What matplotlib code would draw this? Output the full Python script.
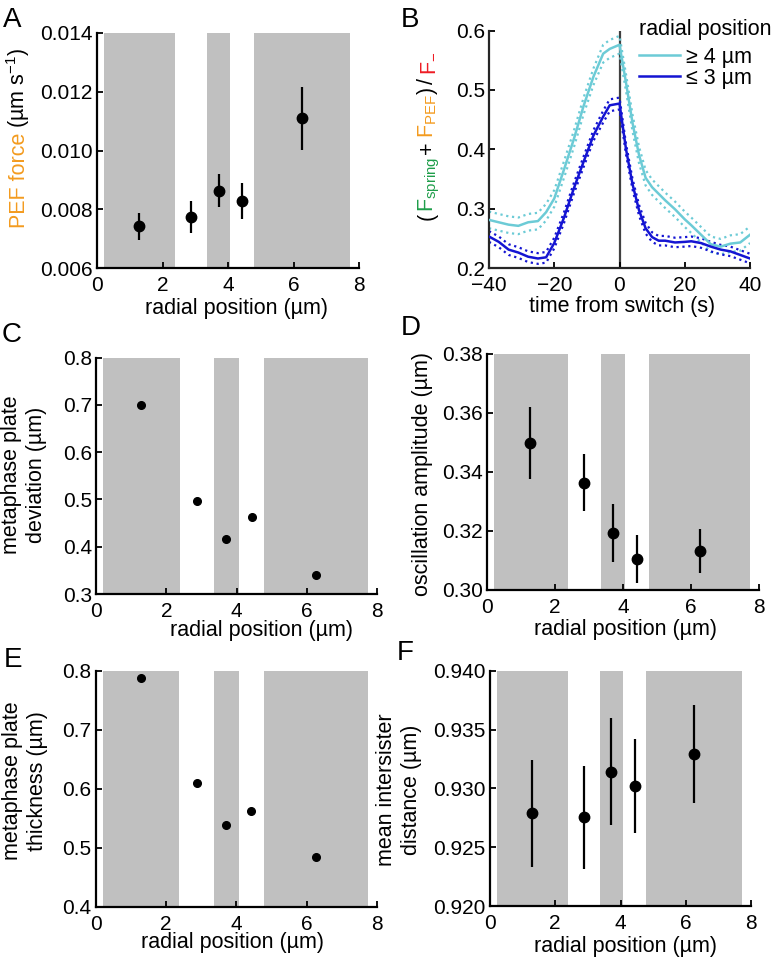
import matplotlib

matplotlib.use("Agg")
import matplotlib.pyplot as plt  # noqa: E402
from matplotlib.ticker import FormatStrFormatter  # noqa: E402

W, H = 777, 961

plt.rcParams["font.family"] = ["Liberation Sans", "DejaVu Sans"]
plt.rcParams["mathtext.fontset"] = "custom"
plt.rcParams["mathtext.rm"] = "Liberation Sans"
plt.rcParams["mathtext.it"] = "Liberation Sans:italic"
plt.rcParams["mathtext.bf"] = "Liberation Sans:bold"

# ---- data ----
radial = [1.28, 2.87, 3.71, 4.43, 6.26]
bands = [(0.2, 2.38), (3.36, 4.07), (4.78, 7.73)]

pef_force = [0.00742, 0.00774, 0.00863, 0.00829, 0.01109]
pef_sem = [0.00046, 0.00055, 0.00056, 0.00062, 0.00106]

plate_dev = [0.7007, 0.497, 0.416, 0.462, 0.340]

osc_amp = [0.3498, 0.3364, 0.3193, 0.3105, 0.3132]
osc_sem = [0.0122, 0.0096, 0.0098, 0.0082, 0.0074]

plate_thick = [0.787, 0.610, 0.539, 0.563, 0.484]

inter_dist = [0.92788, 0.92754, 0.93142, 0.93020, 0.93292]
inter_sem = [0.00456, 0.00436, 0.00453, 0.00403, 0.00415]

t_switch = [-40, -37, -34, -31, -28, -25, -22.5, -20, -17, -14, -11, -8, -5, -3, 0,
            2, 4, 6, 8, 10, 12, 14, 17, 20, 22, 25, 28, 31, 34, 37, 40]
ratio_outer = [0.281, 0.277, 0.273, 0.271, 0.277, 0.279, 0.294, 0.317, 0.366, 0.417,
               0.473, 0.522, 0.561, 0.569, 0.576, 0.512, 0.444, 0.390, 0.352, 0.336,
               0.325, 0.314, 0.299, 0.282, 0.272, 0.256, 0.240, 0.236, 0.241, 0.243,
               0.256]
ratio_outer_sem = [0.014, 0.014, 0.014, 0.014, 0.014, 0.014, 0.014, 0.014, 0.014, 0.014,
                   0.014, 0.014, 0.015, 0.015, 0.015, 0.014, 0.014, 0.014, 0.013, 0.013,
                   0.013, 0.013, 0.013, 0.013, 0.013, 0.013, 0.013, 0.013, 0.014, 0.014,
                   0.014]
ratio_inner = [0.253, 0.244, 0.231, 0.226, 0.219, 0.216, 0.218, 0.242, 0.285, 0.334,
               0.379, 0.423, 0.455, 0.474, 0.477, 0.400, 0.341, 0.297, 0.267, 0.252,
               0.246, 0.246, 0.243, 0.244, 0.245, 0.242, 0.236, 0.231, 0.228, 0.222,
               0.216]
ratio_inner_sem = [0.009, 0.009, 0.009, 0.009, 0.009, 0.009, 0.009, 0.009, 0.009, 0.009,
                   0.009, 0.009, 0.010, 0.010, 0.010, 0.009, 0.009, 0.009, 0.009, 0.008,
                   0.008, 0.008, 0.008, 0.008, 0.008, 0.008, 0.008, 0.008, 0.008, 0.008,
                   0.008]

ORANGE = "#f39b1f"
GREEN = "#1f9e4a"
RED = "#ee1c24"
CYAN = "#6ccbd6"
BLUE = "#1414d2"
BAND = "#c0c0c0"

TICK_FS = 15
LABEL_FS = 15.5


def _fx(px: float) -> float:
    return px / W


def _fy(py: float) -> float:
    return 1 - py / H


def _axes(fig, left, top, right, bottom):
    return fig.add_axes([_fx(left), _fy(bottom), (right - left) / W, (bottom - top) / H])


def _style(ax, ylim, yticks, yfmt, xlim=(0, 8), xticks=(0, 2, 4, 6, 8)):
    ax.set_xlim(*xlim)
    ax.set_ylim(*ylim)
    ax.set_xticks(xticks)
    ax.set_yticks(yticks)
    ax.yaxis.set_major_formatter(FormatStrFormatter(yfmt))
    for side in ("top", "right"):
        ax.spines[side].set_visible(False)
    for side in ("left", "bottom"):
        ax.spines[side].set_linewidth(1.6)
        ax.spines[side].set_color("black")
    ax.tick_params(direction="in", length=4, width=1.3, labelsize=TICK_FS, colors="black")
    ax.tick_params(axis="x", pad=5.5)
    ax.tick_params(axis="y", pad=3)


def _bands(ax):
    for lo, hi in bands:
        ax.axvspan(lo, hi, color=BAND, lw=0, zorder=0)


def _xlabel(fig, text, cx, baseline):
    fig.text(_fx(cx), _fy(baseline), text, ha="center", va="baseline", fontsize=LABEL_FS)


def _ylabel(fig, text, right, cy):
    fig.text(_fx(right), _fy(cy), text, ha="right", va="center", rotation=90,
             multialignment="center", linespacing=1.25, fontsize=LABEL_FS)


def _stacked_ylabel(fig, pieces, baseline_x, cy):
    # pieces: (text, colour, gap_before_px); drawn bottom-to-top on a shared baseline
    renderer = fig.canvas.get_renderer()
    arts = []
    total = 0.0
    for s, c, gap in pieces:
        t = fig.text(0, 0, s, color=c, fontsize=LABEL_FS, rotation=90,
                     rotation_mode="anchor", ha="left", va="baseline")
        length = t.get_window_extent(renderer).height
        arts.append((t, gap, length))
        total += gap + length
    y = (H - cy) - total / 2
    for t, gap, length in arts:
        y += gap
        t.set_position((_fx(baseline_x), y / H))
        y += length


fig = plt.figure(figsize=(W / 100, H / 100), dpi=100)

# A
ax = _axes(fig, 97, 33, 359, 268)
_bands(ax)
ax.errorbar(radial, pef_force, yerr=pef_sem, fmt="o", color="black", ms=7.5, elinewidth=1.6,
            capsize=0, zorder=3)
_style(ax, (0.006, 0.014), [0.006, 0.008, 0.010, 0.012, 0.014], "%.3f")
_xlabel(fig, "radial position (µm)", 236, 314)
_stacked_ylabel(fig, [("PEF force", ORANGE, 0), ("(µm s$^{\\mathregular{-1}}$)", "black", 5)], 25, 138)

# B
ax = _axes(fig, 489, 30.5, 750, 268)
ax.axvline(0, color="#404040", lw=1.6, zorder=1)
ax.plot(t_switch, ratio_outer, color=CYAN, lw=1.8, label="≥ 4 µm", zorder=3)
ax.plot(t_switch, [m + s for m, s in zip(ratio_outer, ratio_outer_sem)], color=CYAN, lw=1.6,
        ls=":", zorder=2)
ax.plot(t_switch, [m - s for m, s in zip(ratio_outer, ratio_outer_sem)], color=CYAN, lw=1.6,
        ls=":", zorder=2)
ax.plot(t_switch, ratio_inner, color=BLUE, lw=1.8, label="≤ 3 µm", zorder=3)
ax.plot(t_switch, [m + s for m, s in zip(ratio_inner, ratio_inner_sem)], color=BLUE, lw=1.6,
        ls=":", zorder=2)
ax.plot(t_switch, [m - s for m, s in zip(ratio_inner, ratio_inner_sem)], color=BLUE, lw=1.6,
        ls=":", zorder=2)
_style(ax, (0.2, 0.6), [0.2, 0.3, 0.4, 0.5, 0.6], "%.1f", xlim=(-40, 40),
       xticks=(-40, -20, 0, 20, 40))
for side in ("left", "bottom"):
    ax.spines[side].set_color("#262626")
ax.legend(loc="upper left", bbox_to_anchor=(_fx(639), _fy(47)),
          bbox_transform=fig.transFigure, frameon=False, borderpad=0,
          handlelength=1.9, handletextpad=0.3, labelspacing=0.0, fontsize=LABEL_FS,
          borderaxespad=0)
fig.text(_fx(639), _fy(35), "radial position", ha="left", va="baseline", fontsize=LABEL_FS)
_xlabel(fig, "time from switch (s)", 622, 312)
_stacked_ylabel(fig, [("(", "black", 0),
                      ("$\\mathregular{F_{spring}}$", GREEN, 1),
                      ("+", "black", 3),
                      ("$\\mathregular{F_{PEF}}$", ORANGE, 3),
                      (")", "black", 0),
                      ("/", "black", 3),
                      ("$\\mathregular{F_{-}}$", RED, 3)], 433, 136)

# C
ax = _axes(fig, 96, 357.7, 377, 594)
_bands(ax)
ax.plot(radial, plate_dev, "o", color="black", ms=5.5, zorder=3)
_style(ax, (0.3, 0.8), [0.3, 0.4, 0.5, 0.6, 0.7, 0.8], "%.1f")
_xlabel(fig, "radial position (µm)", 261, 636)
_ylabel(fig, "metaphase plate\ndeviation (µm)", 47, 474.5)

# D
ax = _axes(fig, 486.7, 354, 759, 590)
_bands(ax)
ax.errorbar(radial, osc_amp, yerr=osc_sem, fmt="o", color="black", ms=7.5, elinewidth=1.6,
            capsize=0, zorder=3)
_style(ax, (0.30, 0.38), [0.30, 0.32, 0.34, 0.36, 0.38], "%.2f")
_xlabel(fig, "radial position (µm)", 626, 635)
_ylabel(fig, "oscillation amplitude (µm)", 433, 474)

# E
ax = _axes(fig, 95.7, 670.5, 377, 907)
_bands(ax)
ax.plot(radial, plate_thick, "o", color="black", ms=5.5, zorder=3)
_style(ax, (0.4, 0.8), [0.4, 0.5, 0.6, 0.7, 0.8], "%.1f")
_xlabel(fig, "radial position (µm)", 232.5, 948)
_ylabel(fig, "metaphase plate\nthickness (µm)", 48, 781)

# F
ax = _axes(fig, 490, 670.7, 751, 906)
_bands(ax)
ax.errorbar(radial, inter_dist, yerr=inter_sem, fmt="o", color="black", ms=7.5, elinewidth=1.6,
            capsize=0, zorder=3)
_style(ax, (0.920, 0.940), [0.920, 0.925, 0.930, 0.935, 0.940], "%.3f")
_xlabel(fig, "radial position (µm)", 626, 951.7)
_ylabel(fig, "mean intersister\ndistance (µm)", 422, 790)

for letter, x, y in [("A", 3, 27), ("B", 401, 27), ("C", 2, 342), ("D", 401, 335),
                     ("E", 4, 667), ("F", 397, 660)]:
    fig.text(_fx(x), _fy(y), letter, fontsize=20, ha="left", va="baseline")

fig.savefig("out.png", dpi=100)
